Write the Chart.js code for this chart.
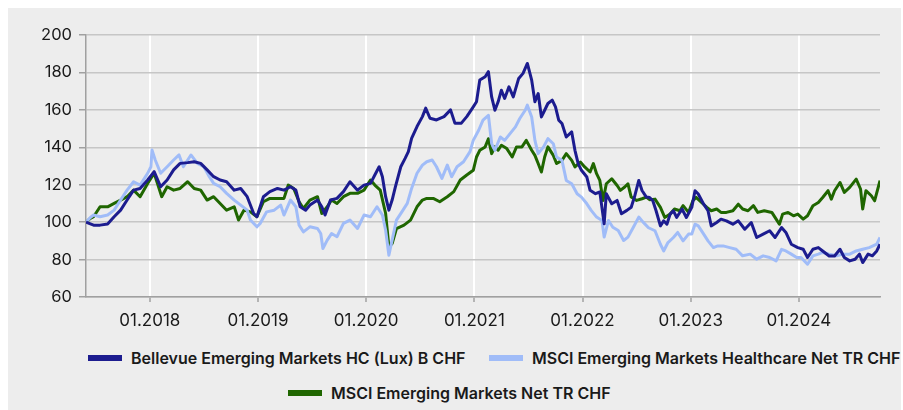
<!DOCTYPE html>
<html>
<head>
<meta charset="utf-8">
<script src="https://cdn.jsdelivr.net/npm/chart.js@4.4.1/dist/chart.umd.min.js"></script>
<style>
html, body { margin: 0; padding: 0; background: #fff; }
body { width: 903px; height: 410px; position: relative; overflow: hidden; font-family: Inter, sans-serif; }
#panel { position: absolute; left: 8px; top: 8px; width: 893px; height: 402px; background: #ededed; }
#wrap { position: absolute; left: 0; top: 0; width: 893px; height: 335px; }
.leg { position: absolute; display: flex; align-items: center; height: 20px; font: 600 16px Inter, sans-serif; color: #1a1a1a; white-space: nowrap; }
.leg .sw { display: inline-block; width: 34px; height: 6px; margin-right: 9px; }
</style>
</head>
<body>
<div id="panel">
  <div id="wrap"><canvas id="mycanvas"></canvas></div>
  <div id="legend"></div>
</div>
<script>
// time axis in decimal years, values indexed to 100
var bellevueTimes = [
  2017.41, 2017.48, 2017.54, 2017.61, 2017.67, 2017.73, 2017.79, 2017.85, 2017.91, 2017.98,
  2018.04, 2018.10, 2018.16, 2018.22, 2018.28, 2018.35, 2018.41, 2018.47, 2018.53, 2018.59, 2018.65, 2018.71, 2018.78, 2018.84, 2018.90, 2018.96, 2018.99,
  2019.05, 2019.11, 2019.18, 2019.24, 2019.30, 2019.35, 2019.39, 2019.44, 2019.48, 2019.55, 2019.59, 2019.62, 2019.67, 2019.73, 2019.79, 2019.85, 2019.92, 2019.98,
  2020.04, 2020.08, 2020.12, 2020.15, 2020.18, 2020.21, 2020.24, 2020.27, 2020.32, 2020.36, 2020.39, 2020.42, 2020.47, 2020.52, 2020.55, 2020.59, 2020.65, 2020.72, 2020.78, 2020.82, 2020.88, 2020.93, 2020.99,
  2021.02, 2021.05, 2021.10, 2021.13, 2021.16, 2021.19, 2021.22, 2021.25, 2021.28, 2021.32, 2021.36, 2021.41, 2021.45, 2021.49, 2021.53, 2021.56, 2021.59, 2021.62, 2021.65, 2021.68, 2021.72, 2021.75, 2021.78, 2021.81, 2021.85, 2021.90, 2021.93, 2021.96, 2021.99,
  2022.04, 2022.07, 2022.12, 2022.16, 2022.20, 2022.22, 2022.27, 2022.32, 2022.36, 2022.41, 2022.45, 2022.48, 2022.52, 2022.55, 2022.59, 2022.62, 2022.65, 2022.68, 2022.72, 2022.75, 2022.78, 2022.81, 2022.84, 2022.87, 2022.92, 2022.96,
  2023.01, 2023.04, 2023.07, 2023.12, 2023.16, 2023.19, 2023.24, 2023.28, 2023.33, 2023.39, 2023.44, 2023.50, 2023.56, 2023.61, 2023.67, 2023.73, 2023.78, 2023.81, 2023.84, 2023.88, 2023.93, 2023.99,
  2024.04, 2024.08, 2024.13, 2024.18, 2024.22, 2024.28, 2024.33, 2024.38, 2024.42, 2024.47, 2024.52, 2024.56, 2024.59, 2024.64, 2024.68, 2024.72, 2024.75
];
var bellevueValues = [
  100, 98.4, 98.4, 99, 102.9, 106.4, 111.8, 117.1, 118.0, 122.5,
  127.0, 118.9, 122.5, 127.9, 131.4, 131.8, 132.3, 131.4, 127.9, 124.3, 122.5, 121.6, 117.1, 118.0, 113.6, 104.6, 102.9,
  113.6, 116.3, 118.0, 117.1, 118.9, 117.1, 108.2, 106.4, 109.1, 111.8, 108.2, 103.8, 111.8, 112.7, 116.3, 121.6, 117.1, 119.8,
  120.7, 125.2, 129.6, 124.3, 113.6, 106.4, 111.8, 118.9, 129.6, 134.1, 137.7, 144.8, 151.1, 156.4, 160.9, 155.5, 154.6, 156.4, 160.0, 152.9, 152.9, 156.4, 161.6,
  164.3, 175.9, 177.7, 180.4, 166.9, 159.8, 164.3, 170.5, 166.1, 172.3, 166.9, 176.8, 179.5, 184.8, 175.9, 164.3, 168.7, 156.2, 159.8, 163.4, 165.2, 161.6, 154.5, 152.7, 145.5, 148.2, 138.4, 131.3, 127.7,
  124.1, 117.0, 115.2, 116.1, 99.1, 115.2, 109.8, 111.6, 104.5, 106.3, 108.0, 113.4, 122.3, 116.9, 113.4, 113.2, 111.4, 106.1, 98.0, 100.7, 98.9, 104.3, 106.1, 102.5, 107.0, 102.5,
  107.9, 116.8, 115.0, 109.6, 106.1, 98.0, 99.8, 101.6, 100.7, 98.9, 100.7, 96.2, 99.8, 91.8, 93.6, 95.4, 91.8, 94.5, 97.1, 94.5, 88.2, 86.4,
  85.5, 81.1, 85.5, 86.4, 84.6, 81.9, 81.9, 85.5, 81.1, 79.3, 80.2, 82.9, 78.4, 82.9, 82.0, 84.6, 88.2
];

var healthcareTimes = [
  2017.41, 2017.45, 2017.48, 2017.54, 2017.61, 2017.67, 2017.73, 2017.79, 2017.85, 2017.91, 2017.98,
  2018.01, 2018.02, 2018.05, 2018.10, 2018.16, 2018.22, 2018.27, 2018.31, 2018.38, 2018.44, 2018.50, 2018.55, 2018.59, 2018.65, 2018.71, 2018.78, 2018.84, 2018.90, 2018.93, 2018.99,
  2019.02, 2019.08, 2019.15, 2019.21, 2019.24, 2019.30, 2019.35, 2019.38, 2019.42, 2019.48, 2019.55, 2019.58, 2019.60, 2019.64, 2019.68, 2019.73, 2019.79, 2019.85, 2019.92, 2019.98,
  2020.04, 2020.10, 2020.15, 2020.18, 2020.21, 2020.24, 2020.28, 2020.33, 2020.38, 2020.42, 2020.47, 2020.52, 2020.56, 2020.61, 2020.65, 2020.70, 2020.75, 2020.79, 2020.84, 2020.90, 2020.96, 2020.99,
  2021.04, 2021.08, 2021.13, 2021.16, 2021.19, 2021.24, 2021.28, 2021.33, 2021.38, 2021.42, 2021.47, 2021.49, 2021.53, 2021.56, 2021.59, 2021.64, 2021.68, 2021.73, 2021.76, 2021.81, 2021.85, 2021.90, 2021.95, 2021.99,
  2022.04, 2022.08, 2022.13, 2022.18, 2022.20, 2022.24, 2022.28, 2022.33, 2022.38, 2022.42, 2022.47, 2022.52, 2022.56, 2022.61, 2022.67, 2022.72, 2022.75, 2022.79, 2022.84, 2022.88, 2022.93, 2022.98,
  2023.01, 2023.04, 2023.07, 2023.12, 2023.16, 2023.21, 2023.25, 2023.30, 2023.36, 2023.42, 2023.48, 2023.55, 2023.61, 2023.67, 2023.73, 2023.79, 2023.84, 2023.88, 2023.93, 2023.98,
  2024.02, 2024.08, 2024.13, 2024.18, 2024.22, 2024.28, 2024.35, 2024.41, 2024.47, 2024.53, 2024.59, 2024.65, 2024.72, 2024.75
];
var healthcareValues = [
  100, 102.5, 103.8, 102.9, 103.8, 106.4, 111.8, 117.1, 121.6, 119.8, 126.1,
  129.6, 138.6, 133.2, 126.1, 129.6, 133.2, 135.9, 129.6, 135.9, 131.4, 129.6, 124.3, 120.7, 118.9, 115.4, 111.8, 109.1, 106.4, 101.1, 97.5,
  99.3, 105.5, 106.4, 109.1, 103.8, 111.8, 108.2, 98.4, 94.8, 97.5, 96.6, 93.9, 85.9, 90.4, 93.9, 92.2, 99.3, 101.1, 96.6, 103.8,
  102.9, 108.2, 103.8, 95.7, 82.3, 90.4, 101.1, 105.5, 110.0, 118.0, 126.1, 130.5, 132.3, 133.2, 129.6, 123.4, 130.5, 124.3, 129.6, 132.3, 137.7, 143.7,
  149.1, 154.5, 157.1, 142.0, 138.4, 145.5, 143.7, 147.3, 150.9, 155.4, 159.8, 162.5, 156.2, 143.7, 136.6, 140.2, 144.6, 141.9, 134.8, 133.0, 122.3, 120.5, 115.2, 113.4,
  109.8, 106.3, 102.7, 100.9, 92.0, 100.9, 97.3, 95.5, 90.2, 92.0, 97.3, 102.7, 100.0, 97.0, 95.4, 88.2, 84.6, 89.1, 91.8, 94.5, 90.0, 93.6,
  93.6, 98.9, 98.0, 93.6, 90.0, 86.4, 87.3, 87.3, 86.4, 85.5, 82.0, 82.9, 80.2, 82.0, 81.1, 79.3, 85.5, 84.6, 82.9, 81.1,
  81.1, 77.5, 82.0, 82.9, 83.8, 82.9, 82.0, 82.9, 82.9, 84.6, 85.5, 86.4, 88.2, 91.8
];

var emergingTimes = [
  2017.41, 2017.45, 2017.48, 2017.54, 2017.61, 2017.67, 2017.73, 2017.79, 2017.85, 2017.91, 2017.98,
  2018.04, 2018.07, 2018.11, 2018.16, 2018.22, 2018.28, 2018.35, 2018.41, 2018.47, 2018.53, 2018.59, 2018.65, 2018.71, 2018.78, 2018.82, 2018.87, 2018.93, 2018.99,
  2019.05, 2019.11, 2019.21, 2019.24, 2019.28, 2019.33, 2019.38, 2019.42, 2019.48, 2019.55, 2019.59, 2019.64, 2019.68, 2019.73, 2019.79, 2019.85, 2019.92, 2019.98,
  2020.04, 2020.08, 2020.13, 2020.18, 2020.21, 2020.24, 2020.28, 2020.35, 2020.41, 2020.47, 2020.52, 2020.56, 2020.62, 2020.68, 2020.75, 2020.81, 2020.87, 2020.93, 2020.99,
  2021.02, 2021.05, 2021.10, 2021.13, 2021.16, 2021.19, 2021.22, 2021.25, 2021.30, 2021.35, 2021.39, 2021.44, 2021.48, 2021.53, 2021.56, 2021.59, 2021.62, 2021.65, 2021.68, 2021.73, 2021.76, 2021.81, 2021.85, 2021.90, 2021.93, 2021.98,
  2022.02, 2022.07, 2022.10, 2022.13, 2022.16, 2022.19, 2022.22, 2022.27, 2022.32, 2022.35, 2022.39, 2022.42, 2022.45, 2022.50, 2022.55, 2022.59, 2022.62, 2022.67, 2022.72, 2022.76, 2022.81, 2022.85, 2022.90, 2022.93, 2022.98,
  2023.02, 2023.05, 2023.10, 2023.15, 2023.19, 2023.24, 2023.28, 2023.33, 2023.39, 2023.44, 2023.48, 2023.53, 2023.58, 2023.62, 2023.68, 2023.75, 2023.79, 2023.82, 2023.85, 2023.90, 2023.95, 2023.99,
  2024.04, 2024.08, 2024.13, 2024.18, 2024.22, 2024.27, 2024.30, 2024.33, 2024.38, 2024.42, 2024.47, 2024.53, 2024.57, 2024.59, 2024.62, 2024.67, 2024.70, 2024.75
];
var emergingValues = [
  100, 102, 102.9, 108.2, 108.2, 110.0, 111.8, 113.6, 117.1, 113.6, 120.7,
  126.1, 120.7, 113.6, 118.9, 117.1, 118.0, 121.6, 118.0, 117.1, 111.8, 113.6, 110.0, 106.4, 108.2, 101.1, 106.4, 105.5, 102.9,
  110.9, 112.7, 112.7, 112.7, 119.8, 118.0, 110.9, 107.3, 111.8, 113.6, 104.6, 108.2, 111.8, 110.0, 113.6, 115.4, 115.4, 117.1,
  122.5, 119.8, 117.1, 104.6, 86.8, 88.6, 96.6, 98.4, 101.1, 108.2, 111.8, 112.7, 112.7, 110.9, 113.6, 116.3, 122.5, 125.2, 127.7,
  134.8, 138.4, 140.2, 144.6, 136.6, 140.2, 138.4, 141.1, 139.3, 134.8, 140.2, 140.2, 143.7, 138.4, 135.7, 131.3, 126.8, 134.8, 140.2, 135.7, 131.3, 133.0, 136.6, 133.0, 129.5, 132.1,
  129.5, 126.8, 131.3, 125.9, 122.3, 111.6, 120.5, 123.2, 119.6, 117.0, 118.8, 120.5, 113.4, 111.6, 112.5, 113.4, 112.0, 112.3, 107.9, 102.5, 104.3, 107.0, 106.1, 108.8, 105.2,
  111.4, 113.2, 110.5, 107.9, 106.1, 107.0, 105.2, 105.2, 106.1, 109.6, 107.0, 106.1, 108.8, 105.2, 106.1, 105.2, 101.6, 98.9, 104.3, 105.2, 103.4, 104.3,
  101.6, 103.4, 108.8, 110.5, 113.2, 116.8, 112.3, 116.8, 121.2, 115.9, 118.6, 123.0, 117.7, 107.0, 116.8, 114.1, 111.4, 122.2
];

var tickYears = [2018, 2019, 2020, 2021, 2022, 2023, 2024];
var tickLabels = ['01.2018', '01.2019', '01.2020', '01.2021', '01.2022', '01.2023', '01.2024'];
var seriesNames = [
  'Bellevue Emerging Markets HC (Lux) B CHF',
  'MSCI Emerging Markets Healthcare Net TR CHF',
  'MSCI Emerging Markets Net TR CHF'
];

var chartColors = {
    navy: 'rgb(28, 28, 143)',
    lightblue: 'rgb(160, 188, 248)',
    green: 'rgb(31, 102, 0)',
    grid: 'rgb(198, 198, 198)',
    axis: 'rgb(160, 160, 160)',
    text: 'rgb(26, 26, 26)'
};

function pairs(times, values) {
    var out = [];
    for (var i = 0; i < times.length; i++) {
        out.push({ x: times[i], y: values[i] });
    }
    return out;
}

function lineSet(label, color, times, values) {
    return {
        label: label,
        data: pairs(times, values),
        borderColor: color,
        backgroundColor: color,
        borderWidth: 3,
        pointRadius: 0,
        tension: 0,
        fill: false,
        borderJoinStyle: 'round'
    };
}

Chart.defaults.font.family = 'Inter, sans-serif';
Chart.defaults.color = chartColors.text;

var ctx = document.getElementById('mycanvas');
var chart = new Chart(ctx, {
    type: 'line',
    data: {
        datasets: [
            lineSet(seriesNames[0], chartColors.navy, bellevueTimes, bellevueValues),
            lineSet(seriesNames[1], chartColors.lightblue, healthcareTimes, healthcareValues),
            lineSet(seriesNames[2], chartColors.green, emergingTimes, emergingValues)
        ]
    },
    options: {
        responsive: true,
        maintainAspectRatio: false,
        animation: false,
        layout: { padding: { left: 0, right: 21, top: 27, bottom: 0 } },
        plugins: {
            legend: { display: false },
            tooltip: { enabled: false }
        },
        scales: {
            x: {
                type: 'linear',
                min: bellevueTimes[0],
                max: bellevueTimes[bellevueTimes.length - 1],
                afterBuildTicks: function (scale) {
                    scale.ticks = tickYears.map(function (v) { return { value: v }; });
                },
                afterFit: function (scale) { scale.height = 46; },
                grid: { color: '#ffffff', lineWidth: 2, tickColor: chartColors.axis, tickLength: 5, tickWidth: 1.5 },
                border: { color: chartColors.axis, width: 1.5 },
                ticks: {
                    callback: function (v) { return tickLabels[tickYears.indexOf(v)]; },
                    font: { size: 17 },
                    padding: 9,
                    maxRotation: 0,
                    autoSkip: false
                }
            },
            y: {
                min: 60,
                max: 200,
                afterFit: function (scale) { scale.width = 78; },
                grid: { color: chartColors.grid, lineWidth: 1.5, tickColor: chartColors.axis, tickLength: 7 },
                border: { color: chartColors.axis, width: 1.5 },
                ticks: { stepSize: 20, font: { size: 16.5 }, padding: 7 }
            }
        }
    }
});

// html legend below the plot
var legendPos = [[80, 340], [481, 340], [280, 375]];
var legendBox = document.getElementById('legend');
chart.data.datasets.forEach(function (ds, i) {
    var item = document.createElement('div');
    item.className = 'leg';
    item.style.left = legendPos[i][0] + 'px';
    item.style.top = legendPos[i][1] + 'px';
    var sw = document.createElement('span');
    sw.className = 'sw';
    sw.style.background = ds.borderColor;
    item.appendChild(sw);
    item.appendChild(document.createTextNode(ds.label));
    legendBox.appendChild(item);
});
</script>
</body>
</html>
